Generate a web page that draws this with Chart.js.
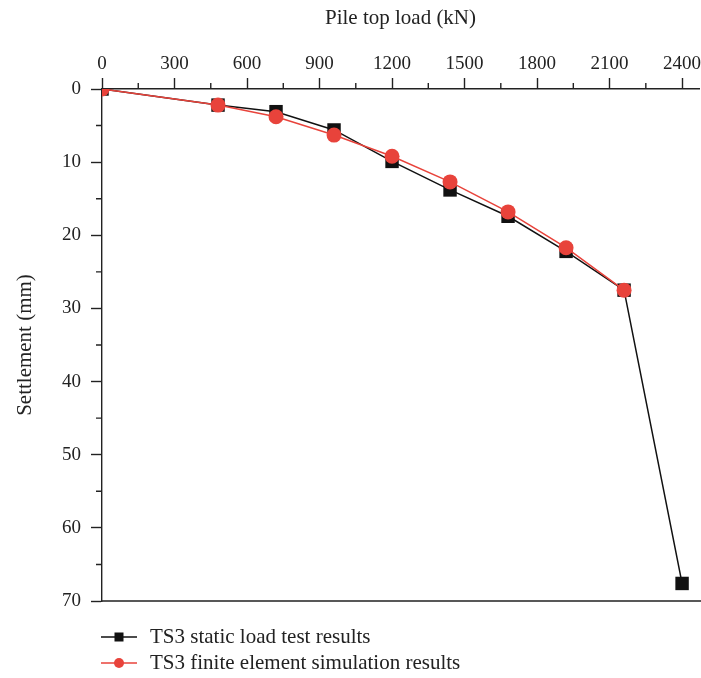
<!DOCTYPE html>
<html>
<head>
<meta charset="utf-8">
<title>Pile top load vs settlement</title>
<script src="https://cdn.jsdelivr.net/npm/chart.js@4/dist/chart.umd.min.js"></script>
<style>
    html, body { margin: 0; padding: 0; background: #fff; }
    #wrap { width: 701px; height: 678px; position: relative; }
</style>
</head>
<body>
<div id="wrap"><canvas id="settlement-chart"></canvas></div>
<script>
// Values
const loads = [0, 480, 720, 960, 1200, 1440, 1680, 1920, 2160, 2400];
const staticTest = [0, 2.2, 3.1, 5.6, 9.9, 13.8, 17.4, 22.2, 27.5, 67.6];
const feSim = [0, 2.2, 3.8, 6.3, 9.2, 12.7, 16.8, 21.7, 27.5];
const xTicks = [0, 300, 600, 900, 1200, 1500, 1800, 2100, 2400];
const yTicks = [0, 10, 20, 30, 40, 50, 60, 70];
const seriesNames = ["TS3 static load test results", "TS3 finite element simulation results"];

const FONT = "'Liberation Serif', 'DejaVu Serif', serif";
const RED = "#e8433b";

document.addEventListener("DOMContentLoaded", function() {
    const toPoints = (ys) => ys.map((y, i) => ({ x: loads[i], y: y }));

    // minor ticks, bottom frame line and the legend under the plot
    const extras = {
        id: "extras",
        afterDraw(chart) {
            const ctx = chart.ctx;
            const area = chart.chartArea;
            const xs = chart.scales.x, ys = chart.scales.y;
            ctx.save();
            ctx.strokeStyle = "#222";
            ctx.lineWidth = 1.4;
            ctx.beginPath();
            for (let i = 0; i < xTicks.length - 1; i++) {
                const px = xs.getPixelForValue((xTicks[i] + xTicks[i + 1]) / 2);
                ctx.moveTo(px, area.top);
                ctx.lineTo(px, area.top - 6);
            }
            for (let i = 0; i < yTicks.length - 1; i++) {
                const py = ys.getPixelForValue((yTicks[i] + yTicks[i + 1]) / 2);
                ctx.moveTo(area.left, py);
                ctx.lineTo(area.left - 6, py);
            }
            ctx.moveTo(area.left, area.bottom);
            ctx.lineTo(area.right + 2, area.bottom);
            ctx.stroke();

            // legend
            chart.data.datasets.forEach((ds, i) => {
                const y = area.bottom + 36 + i * 26;
                const x0 = area.left - 1;
                ctx.strokeStyle = ds.borderColor;
                ctx.lineWidth = 1.5;
                ctx.beginPath();
                ctx.moveTo(x0, y);
                ctx.lineTo(x0 + 36, y);
                ctx.stroke();
                ctx.fillStyle = ds.pointBackgroundColor;
                if (ds.pointStyle === "rect") {
                    ctx.fillRect(x0 + 13.5, y - 4.5, 9, 9);
                } else {
                    ctx.beginPath();
                    ctx.arc(x0 + 18, y, 5, 0, Math.PI * 2);
                    ctx.fill();
                }
                ctx.fillStyle = "#222";
                ctx.font = "21px " + FONT;
                ctx.textBaseline = "middle";
                ctx.fillText(ds.label, x0 + 49, y);
            });
            ctx.restore();
        }
    };

    const ctx = document.getElementById("settlement-chart").getContext("2d");
    new Chart(ctx, {
        type: "line",
        data: {
            datasets: [{
                label: seriesNames[0],
                data: toPoints(staticTest),
                borderColor: "#111",
                backgroundColor: "#111",
                pointBackgroundColor: "#111",
                pointBorderColor: "#111",
                pointStyle: "rect",
                pointRadius: 9.5,
                pointBorderWidth: 0,
                borderWidth: 1.5,
                order: 2
            }, {
                label: seriesNames[1],
                data: toPoints(feSim),
                borderColor: RED,
                backgroundColor: RED,
                pointBackgroundColor: RED,
                pointBorderColor: RED,
                pointStyle: "circle",
                pointRadius: 7.5,
                pointBorderWidth: 0,
                borderWidth: 1.5,
                order: 1
            }]
        },
        options: {
            responsive: true,
            maintainAspectRatio: false,
            animation: false,
            layout: { autoPadding: false, padding: { left: 0, right: 2, top: 0, bottom: 77 } },
            plugins: {
                legend: { display: false },
                tooltip: { enabled: false }
            },
            scales: {
                x: {
                    type: "linear",
                    position: "top",
                    min: 0,
                    max: 2470,
                    afterFit(scale) {
                        scale.height = 89;
                        scale.paddingLeft = 0;
                        scale.paddingRight = 0;
                    },
                    afterBuildTicks(scale) { scale.ticks = xTicks.map(v => ({ value: v })); },
                    ticks: {
                        color: "#222", font: { family: FONT, size: 19 }, padding: 3, maxRotation: 0,
                        callback: (v) => String(v)
                    },
                    grid: { drawOnChartArea: false, tickLength: 11, tickWidth: 1.4, tickColor: "#222" },
                    border: { color: "#222", width: 1.4 },
                    title: { display: true, text: "Pile top load (kN)", color: "#222", font: { family: FONT, size: 21 }, padding: { top: 6, bottom: 11 } }
                },
                y: {
                    type: "linear",
                    reverse: true,
                    min: 0,
                    max: 70,
                    afterFit(scale) {
                        scale.width = 102;
                        scale.paddingTop = 0;
                        scale.paddingBottom = 0;
                    },
                    afterBuildTicks(scale) { scale.ticks = yTicks.map(v => ({ value: v })); },
                    ticks: {
                        color: "#222", font: { family: FONT, size: 19 }, padding: 10,
                        callback: (v) => String(v)
                    },
                    grid: { drawOnChartArea: false, tickLength: 11, tickWidth: 1.4, tickColor: "#222" },
                    border: { color: "#222", width: 1.4 },
                    title: { display: true, text: "Settlement (mm)", color: "#222", font: { family: FONT, size: 21 }, padding: { top: 13, bottom: 0 } }
                }
            }
        },
        plugins: [extras]
    });
});
</script>
</body>
</html>
